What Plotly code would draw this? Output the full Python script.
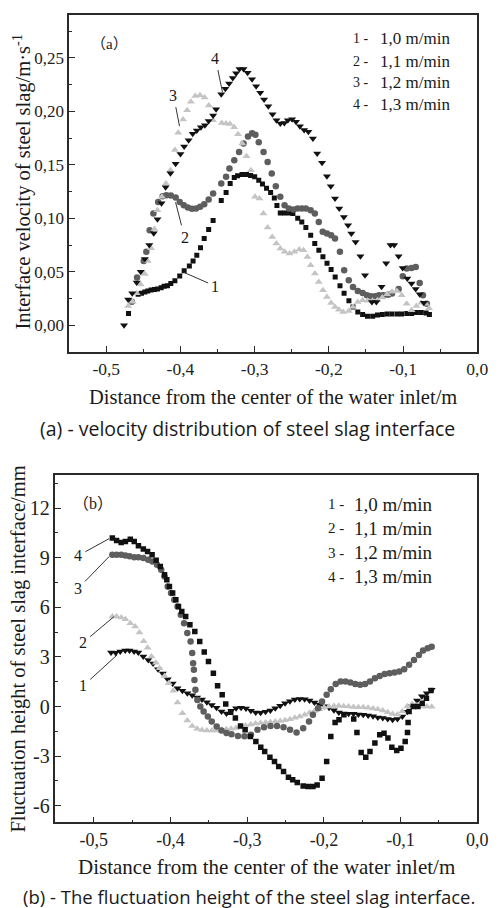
import plotly.graph_objects as go

# ---------------- Panel (a): interface velocity ----------------
A1_X = [-0.470, -0.457, -0.4525, -0.448, -0.444, -0.4395, -0.435, -0.431, -0.426, -0.422, -0.4175, -0.413,
        -0.4075, -0.401, -0.395, -0.388, -0.383, -0.378, -0.373, -0.368, -0.362, -0.356, -0.345, -0.3385,
        -0.333, -0.3275, -0.323, -0.317, -0.311, -0.3055, -0.300, -0.2945, -0.2895, -0.284, -0.2785, -0.2735,
        -0.270, -0.2655, -0.260, -0.254, -0.2485, -0.242, -0.2365, -0.231, -0.2245, -0.219, -0.2135, -0.208,
        -0.2025, -0.197, -0.1915, -0.185, -0.1795, -0.173, -0.1675, -0.161, -0.1545, -0.148, -0.141, -0.1345,
        -0.128, -0.1215, -0.115, -0.108, -0.102, -0.095, -0.0885, -0.082, -0.0755, -0.069, -0.0645]
A1_Y = [0.011, 0.029, 0.030, 0.031, 0.032, 0.033, 0.0335, 0.034, 0.035, 0.0365, 0.037, 0.039,
        0.0415, 0.046, 0.051, 0.0555, 0.060, 0.0655, 0.0725, 0.081, 0.0895, 0.098, 0.1165, 0.124,
        0.1325, 0.138, 0.1397, 0.141, 0.141, 0.140, 0.1387, 0.1356, 0.132, 0.128, 0.124, 0.119,
        0.112, 0.105, 0.105, 0.105, 0.1045, 0.100, 0.0965, 0.0913, 0.0842, 0.0764, 0.070, 0.064,
        0.058, 0.052, 0.045, 0.037, 0.030, 0.023, 0.017, 0.0125, 0.010, 0.0085, 0.0085, 0.0095,
        0.010, 0.0105, 0.0105, 0.0105, 0.0105, 0.011, 0.011, 0.012, 0.012, 0.0115, 0.010]

A2_X = [-0.4655, -0.4585, -0.4495, -0.446, -0.4415, -0.4365, -0.430, -0.424, -0.419, -0.413, -0.4065, -0.401,
        -0.3955, -0.390, -0.3845, -0.379, -0.3735, -0.368, -0.362, -0.356, -0.345, -0.3385, -0.334, -0.3275,
        -0.321, -0.315, -0.309, -0.3035, -0.299, -0.2945, -0.288, -0.2825, -0.277, -0.2715, -0.2655, -0.2597,
        -0.254, -0.2478, -0.2421, -0.2364, -0.2311, -0.2246, -0.2189, -0.2136, -0.2083, -0.2026, -0.1969,
        -0.1917, -0.1851, -0.1794, -0.1732, -0.1675, -0.161, -0.1544, -0.1487, -0.1434, -0.1377, -0.1325,
        -0.1268, -0.1202, -0.1149, -0.106, -0.1004, -0.0951, -0.0886, -0.0829, -0.0776, -0.0732, -0.068]
A2_Y = [0.022, 0.0446, 0.060, 0.0686, 0.0888, 0.1044, 0.1153, 0.1206, 0.1216, 0.1213, 0.1194, 0.1153,
        0.1122, 0.110, 0.1088, 0.1091, 0.1107, 0.1132, 0.1175, 0.1231, 0.1325, 0.1387, 0.1465, 0.1543,
        0.162, 0.170, 0.1765, 0.1795, 0.178, 0.171, 0.162, 0.1527, 0.1418, 0.130, 0.120, 0.1122,
        0.1091, 0.1082, 0.1091, 0.1091, 0.1091, 0.1075, 0.1044, 0.0966, 0.0873, 0.0857, 0.0842,
        0.081, 0.0686, 0.0514, 0.0421, 0.0358, 0.0321, 0.0302, 0.0281, 0.0271, 0.0271, 0.0281,
        0.0281, 0.0285, 0.0296, 0.034, 0.0458, 0.053, 0.0536, 0.0545, 0.0396, 0.028, 0.020]

A3_X = [-0.4705, -0.4645, -0.459, -0.4535, -0.448, -0.444, -0.4395, -0.435, -0.431, -0.425, -0.4195, -0.4135,
        -0.4075, -0.403, -0.3965, -0.391, -0.386, -0.380, -0.3737, -0.3675, -0.3618, -0.3561, -0.3443, -0.3386,
        -0.3333, -0.3276, -0.3224, -0.3167, -0.311, -0.305, -0.2995, -0.2935, -0.2882, -0.2825, -0.2763,
        -0.2707, -0.2654, -0.2596, -0.253, -0.2465, -0.2399, -0.2342, -0.2289, -0.2245, -0.2188, -0.2136,
        -0.2079, -0.2026, -0.197, -0.1917, -0.1864, -0.1807, -0.1732, -0.1675, -0.161, -0.1544, -0.1478,
        -0.1412, -0.1346, -0.128, -0.1215, -0.1149, -0.1083, -0.1018, -0.0952, -0.0886, -0.082, -0.0755,
        -0.0695, -0.065]
A3_Y = [0.018, 0.022, 0.030, 0.038, 0.048, 0.060, 0.072, 0.090, 0.1075, 0.120, 0.1325, 0.145,
        0.1637, 0.180, 0.1923, 0.201, 0.209, 0.2142, 0.2151, 0.2129, 0.2055, 0.1917, 0.189, 0.1886,
        0.188, 0.185, 0.1786, 0.170, 0.158, 0.145, 0.120, 0.1185, 0.1045, 0.0913, 0.0826,
        0.0764, 0.0717, 0.0686, 0.067, 0.0686, 0.0708, 0.0702, 0.0639, 0.0561, 0.0483, 0.0405,
        0.0327, 0.0265, 0.0209, 0.0171, 0.0146, 0.0125, 0.0134, 0.0171, 0.0218, 0.0234, 0.0228,
        0.023, 0.0234, 0.0259, 0.029, 0.0312, 0.0321, 0.028, 0.0202, 0.014, 0.018, 0.021,
        0.020, 0.016]

A4_X = [-0.476, -0.4705, -0.465, -0.459, -0.4535, -0.448, -0.442, -0.436, -0.431, -0.4255, -0.420, -0.4135,
        -0.4065, -0.400, -0.395, -0.389, -0.3835, -0.378, -0.3725, -0.367, -0.362, -0.356, -0.352, -0.345,
        -0.3395, -0.3345, -0.3295, -0.325, -0.3205, -0.315, -0.3095, -0.3035, -0.298, -0.2925, -0.2873,
        -0.2816, -0.2759, -0.2706, -0.2654, -0.260, -0.2553, -0.2496, -0.2443, -0.239, -0.2333, -0.2276,
        -0.2215, -0.2158, -0.2092, -0.2026, -0.1974, -0.1917, -0.186, -0.1798, -0.1741, -0.1697, -0.164,
        -0.1575, -0.1513, -0.142, -0.136, -0.129, -0.1228, -0.117, -0.112, -0.106, -0.1005, -0.0943,
        -0.0886, -0.083, -0.0776, -0.072]
A4_Y = [0.0, 0.024, 0.030, 0.040, 0.050, 0.062, 0.075, 0.086, 0.099, 0.114, 0.129, 0.142,
        0.151, 0.160, 0.167, 0.173, 0.179, 0.182, 0.185, 0.187, 0.191, 0.196, 0.202, 0.216,
        0.221, 0.226, 0.231, 0.2355, 0.2395, 0.2395, 0.236, 0.230, 0.2235, 0.2173, 0.211,
        0.2048, 0.1973, 0.1917, 0.1886, 0.189, 0.1917, 0.1926, 0.1902, 0.1861, 0.1824, 0.1808,
        0.1746, 0.1605, 0.1518, 0.1393, 0.130, 0.1185, 0.1091, 0.1013, 0.0935, 0.0857, 0.0779,
        0.0645, 0.0468, 0.0218, 0.0218, 0.036, 0.058, 0.075, 0.075, 0.0645, 0.0536, 0.0437,
        0.039, 0.034, 0.029, 0.021]

# ---------------- Panel (b): fluctuation height ----------------
B1_X = [-0.4775, -0.4715, -0.4655, -0.459, -0.4535, -0.4475, -0.442, -0.4355, -0.429, -0.4227, -0.4163, -0.410,
        -0.4036, -0.3972, -0.3908, -0.3845, -0.378, -0.3717, -0.3653, -0.359, -0.3526, -0.3462, -0.340,
        -0.3335, -0.327, -0.3207, -0.3144, -0.308, -0.3016, -0.2952, -0.2889, -0.2825, -0.2761, -0.2698,
        -0.2634, -0.257, -0.2506, -0.2443, -0.2379, -0.2315, -0.2251, -0.2188, -0.2124, -0.206, -0.1997,
        -0.1933, -0.1869, -0.1805, -0.1742, -0.1678, -0.1614, -0.155, -0.1487, -0.1423, -0.1359, -0.1296,
        -0.1232, -0.1168, -0.1104, -0.1041, -0.0977, -0.0913, -0.085, -0.0786, -0.0722, -0.0658, -0.0595]
B1_Y = [3.27, 3.25, 3.33, 3.39, 3.39, 3.33, 3.27, 3.03, 2.82, 2.60, 2.26, 2.00,
        1.65, 1.40, 1.10, 0.95, 0.80, 0.68, 0.55, 0.42, 0.26, 0.10, -0.08,
        -0.30, -0.42, -0.25, -0.10, -0.08, -0.12, -0.26, -0.36, -0.38, -0.32, -0.24,
        -0.10, 0.05, 0.20, 0.32, 0.42, 0.46, 0.44, 0.36, 0.24, 0.12, 0.02,
        -0.08, -0.22, -0.36, -0.42, -0.44, -0.44, -0.48, -0.50, -0.54, -0.58, -0.66,
        -0.70, -0.75, -0.80, -0.76, -0.60, -0.32, 0.05, 0.36, 0.62, 0.81, 1.01]

B2_X = [-0.4758, -0.4703, -0.4643, -0.4588, -0.4524, -0.4461, -0.4405, -0.435, -0.4299, -0.4248, -0.419,
        -0.4142, -0.4078, -0.4023, -0.3963, -0.3908, -0.3845, -0.3781, -0.3717, -0.3653, -0.359, -0.3525,
        -0.346, -0.340, -0.3335, -0.327, -0.321, -0.3145, -0.308, -0.302, -0.2955, -0.289, -0.2825, -0.276,
        -0.2698, -0.2634, -0.257, -0.2506, -0.2443, -0.2379, -0.2315, -0.2251, -0.2188, -0.2124, -0.206,
        -0.1997, -0.1933, -0.1869, -0.1805, -0.1742, -0.1678, -0.1614, -0.155, -0.1487, -0.1423, -0.1359,
        -0.1296, -0.1232, -0.1168, -0.1104, -0.1041, -0.0977, -0.0913, -0.085, -0.0786, -0.0722, -0.0658,
        -0.0595]
B2_Y = [5.45, 5.45, 5.39, 5.28, 5.04, 4.84, 4.48, 3.95, 3.55, 3.03, 2.65,
        2.32, 1.85, 1.41, 0.95, 0.25, -0.40, -0.85, -1.18, -1.35, -1.42, -1.45,
        -1.45, -1.45, -1.41, -1.38, -1.34, -1.30, -1.24, -1.15, -1.08, -1.03, -1.00, -0.96,
        -0.93, -0.90, -0.87, -0.83, -0.77, -0.68, -0.60, -0.49, -0.38, -0.27, -0.16,
        -0.06, 0.0, 0.03, 0.04, 0.02, 0.0, -0.03, -0.04, -0.05, -0.08, -0.12,
        -0.17, -0.24, -0.34, -0.45, -0.48, -0.28, 0.02, 0.15, 0.08, 0.0, 0.0,
        -0.02]

B3_X = [-0.4758, -0.4703, -0.4643, -0.4588, -0.4533, -0.4473, -0.4418, -0.4354, -0.4291, -0.4235, -0.4176,
        -0.4121, -0.4078, -0.4036, -0.3993, -0.3951, -0.3908, -0.3866, -0.3823, -0.3781, -0.3738, -0.3717,
        -0.3705, -0.3695, -0.3688, -0.3675, -0.365, -0.3611, -0.3568, -0.3513, -0.3462, -0.3398, -0.3335,
        -0.327, -0.3205, -0.3121, -0.3036, -0.2951, -0.2866, -0.2781, -0.2696, -0.2611, -0.2526, -0.2441,
        -0.2356, -0.227, -0.2194, -0.2143, -0.2076, -0.2024, -0.1964, -0.191, -0.1846, -0.1782, -0.1718,
        -0.1655, -0.1591, -0.1527, -0.1463, -0.1399, -0.1335, -0.1272, -0.1208, -0.1144, -0.108, -0.1017,
        -0.0953, -0.0889, -0.0825, -0.0761, -0.0707, -0.0647, -0.0595]
B3_Y = [9.18, 9.18, 9.18, 9.14, 9.08, 9.02, 9.02, 8.98, 8.87, 8.77, 8.57,
        8.27, 7.87, 7.26, 6.86, 6.45, 6.05, 5.55, 5.04, 4.44, 3.93, 3.23,
        2.62, 2.22, 1.61, 1.01, 0.40, 0.0, -0.30, -0.61, -0.91, -1.21, -1.45,
        -1.60, -1.68, -1.78, -1.80, -1.71, -1.41, -1.25, -1.17, -1.17, -1.25, -1.41,
        -1.57, -1.31, -0.91, -0.50, -0.10, 0.30, 0.71, 1.05, 1.37, 1.51, 1.51,
        1.45, 1.37, 1.31, 1.37, 1.51, 1.71, 1.85, 1.96, 2.02, 2.06, 2.12,
        2.26, 2.52, 2.82, 3.12, 3.39, 3.53, 3.62]

B4_X = [-0.4758, -0.4703, -0.4643, -0.4588, -0.4524, -0.4473, -0.4418, -0.4354, -0.4299, -0.424, -0.4187,
        -0.4133, -0.4078, -0.4048, -0.4014, -0.3972, -0.393, -0.3896, -0.3853, -0.3802, -0.3747, -0.3683,
        -0.3619, -0.356, -0.3505, -0.3441, -0.3386, -0.3326, -0.328, -0.3215, -0.3154, -0.3087, -0.3027,
        -0.2959, -0.2887, -0.2823, -0.2772, -0.2704, -0.2644, -0.2589, -0.2526, -0.2462, -0.2407, -0.2347,
        -0.227, -0.2207, -0.2143, -0.2088, -0.2024, -0.1964, -0.191, -0.1854, -0.1803, -0.1739, -0.1611,
        -0.1569, -0.1514, -0.1454, -0.1399, -0.1335, -0.1272, -0.1216, -0.1165, -0.1114, -0.105, -0.0995,
        -0.094, -0.091, -0.0902, -0.0889, -0.0833, -0.0774, -0.0718, -0.0663, -0.0603]
B4_Y = [10.19, 10.04, 9.92, 9.98, 10.12, 9.98, 9.72, 9.52, 9.38, 9.18, 8.85,
        8.47, 7.97, 7.66, 7.26, 6.86, 6.45, 6.05, 5.75, 5.45, 4.94, 4.54,
        3.93, 3.30, 2.72, 2.02, 1.25, 0.71, 0.15, -0.35, -0.70, -1.17, -1.41,
        -1.81, -2.12, -2.46, -2.72, -3.06, -3.33, -3.63, -3.93, -4.27, -4.43, -4.60,
        -4.80, -4.84, -4.84, -4.74, -4.33, -3.33, -1.81, -0.97, -0.80, -0.50, -0.76,
        -1.57, -2.78, -3.06, -2.72, -2.21, -1.71, -1.61, -1.91, -2.46, -2.66, -2.52,
        -2.12, -1.57, -0.97, -0.30, 0.0, 0.0, 0.2, 0.5, 0.97]

# ---------------- Tick labels and texts ----------------
X_TICKS = [-0.5, -0.4, -0.3, -0.2, -0.1, 0.0]
X_TICK_TEXT = ["-0,5", "-0,4", "-0,3", "-0,2", "-0,1", "0,0"]
YA_TICKS = [0.0, 0.05, 0.10, 0.15, 0.20, 0.25]
YA_TICK_TEXT = ["0,00", "0,05", "0,10", "0,15", "0,20", "0,25"]
YB_TICKS = [-6, -3, 0, 3, 6, 9, 12]
YB_TICK_TEXT = ["-6", "-3", "0", "3", "6", "9", "12"]
LEGEND_NUMS = ["1 -", "2 -", "3 -", "4 -"]
LEGEND_SPEEDS = ["1,0 m/min", "1,1 m/min", "1,2 m/min", "1,3 m/min"]

SERIF = "Liberation Serif"
SANS = "Open Sans"
CJK = "Noto Sans CJK SC"
BLACK = "#111111"
GRAY = "#5e5e5e"
LIGHT = "#c4c4c4"
AXC = "#2a2a2a"

fig = go.Figure()

def add(x, y, xa, ya, symbol, color, size):
    fig.add_trace(go.Scatter(x=x, y=y, xaxis=xa, yaxis=ya, mode="markers",
                             marker=dict(symbol=symbol, color=color, size=size, line=dict(width=0)),
                             showlegend=False, hoverinfo="skip"))

# panel (a)
add(A1_X, A1_Y, "x", "y", "square", BLACK, 5)
add(A2_X, A2_Y, "x", "y", "circle", GRAY, 6.5)
add(A3_X, A3_Y, "x", "y", "triangle-up", LIGHT, 7)
add(A4_X, A4_Y, "x", "y", "triangle-down", BLACK, 7)
# panel (b)
add(B1_X, B1_Y, "x2", "y2", "triangle-down", BLACK, 7)
add(B2_X, B2_Y, "x2", "y2", "triangle-up", LIGHT, 7)
add(B3_X, B3_Y, "x2", "y2", "circle", GRAY, 6.5)
add(B4_X, B4_Y, "x2", "y2", "square", BLACK, 5.5)

W, H = 501, 908

def axis(domain, anchor, rng, tv, tt, minor_dtick, size):
    return dict(domain=domain, anchor=anchor, range=rng, tickmode="array", tickvals=tv, ticktext=tt,
                ticks="inside", ticklen=6, tickwidth=1.2, tickcolor=AXC,
                minor=dict(ticks="inside", ticklen=3, tickwidth=1, tickcolor=AXC, dtick=minor_dtick, tick0=0),
                showline=True, linecolor=AXC, linewidth=1.5, mirror=True,
                showgrid=False, zeroline=False,
                tickfont=dict(family=SERIF, size=size, color="#222"))

ann = []
def txt(x, y, s, size, family=SERIF, xanchor="center", angle=0):
    ann.append(dict(x=x / W, y=1 - y / H, xref="paper", yref="paper", text=s, showarrow=False,
                    xanchor=xanchor, yanchor="middle", textangle=angle,
                    font=dict(family=family, size=size, color="#1a1a1a")))

# axis titles
txt(22, 182, "Interface velocity of steel slag/m·s<sup>-1</sup>", 20.5, angle=-90)
txt(279, 397, "Distance from the center of the water inlet/m", 20.5)
txt(18, 649, "Fluctuation height of steel slag interface/mm", 20.5, angle=-90)
txt(272.5, 867, "Distance from the center of the water inlet/m", 21)
# captions
txt(253, 428, "(a) - velocity distribution of steel slag interface", 19.5, family=SANS)
txt(254.5, 896, "(b) - The fluctuation height of the steel slag interface.", 18.5, family=SANS)
# panel tags (full-width brackets)
def tag(letter):
    return (f"<span style='font-family:{CJK}'>（</span>{letter}"
            f"<span style='font-family:{CJK}'>）</span>")
txt(111.5, 43, tag("a"), 15)
txt(95, 501.7, tag("b"), 16)
# in-plot legend texts
for i, yy in enumerate([39, 61, 82, 104]):
    txt(359, yy, LEGEND_NUMS[i], 14, xanchor="left")
    txt(386.7, yy, LEGEND_SPEEDS[i], 17, xanchor="left")
for i, yy in enumerate([504, 528.3, 552.7, 576.7]):
    txt(333, yy, LEGEND_NUMS[i], 15, xanchor="left")
    txt(360, yy, LEGEND_SPEEDS[i], 19, xanchor="left")

# curve labels with leader lines
def lead(xr, yr, x, y, s, axp, ayp, size=16):
    ann.append(dict(x=x, y=y, xref=xr, yref=yr, text=s, showarrow=True, arrowhead=0, arrowwidth=1,
                    arrowcolor="#333", ax=axp, ay=ayp, standoff=0, startstandoff=2,
                    font=dict(family=SERIF, size=size, color="#1a1a1a")))

lead("x", "y", -0.3434, 0.2179, "4", -7, -34)
lead("x", "y", -0.4013, 0.1861, "3", -6, -31)
lead("x", "y", -0.4066, 0.1150, "2", 9, 35)
lead("x", "y", -0.3960, 0.0496, "1", 32, 14)
lead("x2", "y2", -0.480, 10.15, "4", -31, 17)
lead("x2", "y2", -0.480, 9.07, "3", -31, 32)
lead("x2", "y2", -0.4736, 5.44, "2", -31, 26)
lead("x2", "y2", -0.4694, 3.13, "1", -34, 31)

fig.update_layout(
    width=W, height=H, autosize=False,
    margin=dict(l=0, r=0, t=0, b=0),
    paper_bgcolor="white", plot_bgcolor="white",
    xaxis=axis([70.7 / W, 488 / W], "y", [-0.55, 0.0], X_TICKS, X_TICK_TEXT, 0.05, 17.5),
    yaxis=axis([1 - 352 / H, 1 - 15 / H], "x", [-0.025, 0.29], YA_TICKS, YA_TICK_TEXT, 0.025, 17),
    xaxis2=axis([56.7 / W, 488 / W], "y2", [-0.55, 0.0], X_TICKS, X_TICK_TEXT, 0.05, 18),
    yaxis2=axis([1 - 822.3 / H, 1 - 475 / H], "x2", [-7, 14], YB_TICKS, YB_TICK_TEXT, 1.5, 20),
    annotations=ann,
    showlegend=False,
)

fig.write_html("out.html", config={"displayModeBar": False},
               post_script="document.body.style.margin='0';document.body.style.overflow='hidden';")
